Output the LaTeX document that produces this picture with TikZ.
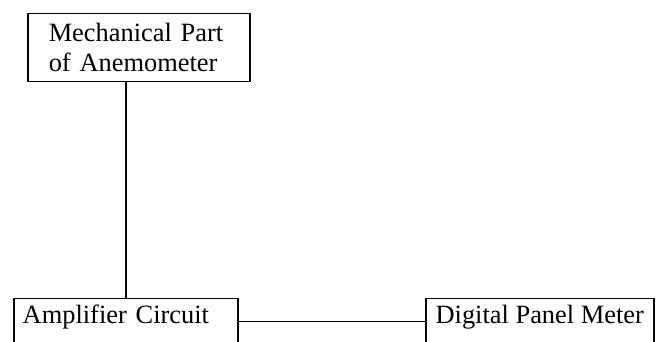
\documentclass[tikz,border=0pt]{standalone}
\usepackage{fontspec}
\setmainfont{Liberation Serif}
\begin{document}
\begin{tikzpicture}[x=1pt,y=-1pt,
  blockbox/.style={draw=black, line width=1.5pt, rectangle, inner ysep=0pt,
    font=\fontsize{26.4}{30}\selectfont},
  link/.style={draw=black, line width=1.5pt}]
\useasboundingbox (0,0) rectangle (657,342);
\clip (0,0) rectangle (657,342);

% sensing head
\node[blockbox, anchor=north west, inner xsep=21pt, text width=180pt,
      align=left, minimum height=68pt] (mech) at (27,13)
  {Mechanical Part\\of Anemometer};

% signal chain along the bottom (boxes run past the lower edge)
\node[blockbox, anchor=north west, inner xsep=9pt, text width=206pt,
      align=left, text height=25pt, text depth=21pt] (amp) at (13,298)
  {Amplifier Circuit};
\node[blockbox, anchor=north west, inner xsep=0pt, minimum width=228pt,
      text height=25pt, text depth=21pt] (dpm) at (425,298)
  {Digital Panel Meter};

% connectors
\draw[link] (amp.north) -- (amp.north |- mech.south);
\draw[link] (amp.east) -- (dpm.west);
\end{tikzpicture}
\end{document}
